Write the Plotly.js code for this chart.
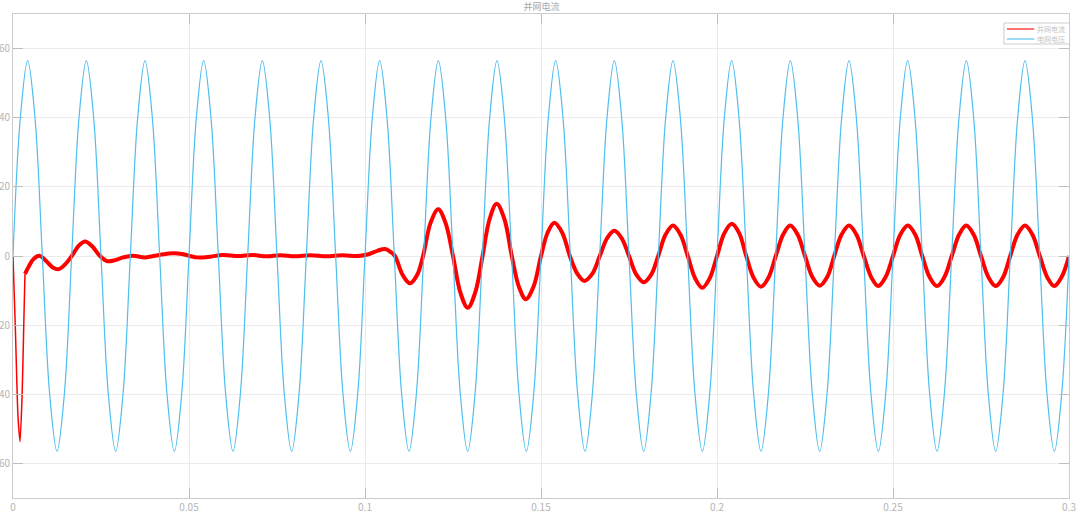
<!DOCTYPE html>
<html>
<head>
<meta charset="utf-8">
<script src="https://cdn.plot.ly/plotly-3.0.1.min.js"></script>
<style>html,body{margin:0;padding:0;background:#fff;}#chart{width:1080px;height:514px;}</style>
</head>
<body>
<div id="chart"></div>
<script>
// ---- data ----
var titleText = '并网电流';
var seriesNames = ['并网电流', '电网电压'];

// grid voltage, sampled every 1/480 s (8 samples per 60 Hz cycle)
var voltT0 = 0;
var voltDt = 1 / 480;
var voltV = [
  0, 40, 56.5, 40, 0, -40, -56.5, -40,
  0, 40, 56.5, 40, 0, -40, -56.5, -40,
  0, 40, 56.5, 40, 0, -40, -56.5, -40,
  0, 40, 56.5, 40, 0, -40, -56.5, -40,
  0, 40, 56.5, 40, 0, -40, -56.5, -40,
  0, 40, 56.5, 40, 0, -40, -56.5, -40,
  0, 40, 56.5, 40, 0, -40, -56.5, -40,
  0, 40, 56.5, 40, 0, -40, -56.5, -40,
  0, 40, 56.5, 40, 0, -40, -56.5, -40,
  0, 40, 56.5, 40, 0, -40, -56.5, -40,
  0, 40, 56.5, 40, 0, -40, -56.5, -40,
  0, 40, 56.5, 40, 0, -40, -56.5, -40,
  0, 40, 56.5, 40, 0, -40, -56.5, -40,
  0, 40, 56.5, 40, 0, -40, -56.5, -40,
  0, 40, 56.5, 40, 0, -40, -56.5, -40,
  0, 40, 56.5, 40, 0, -40, -56.5, -40,
  0, 40, 56.5, 40, 0, -40, -56.5, -40,
  0, 40, 56.5, 40, 0, -40, -56.5, -40,
  0
];

// grid current: start-up spike
var startT = [0, 0.0007, 0.0014, 0.0020, 0.0026, 0.0031, 0.0034];
var startV = [0, -22, -46, -53.7, -40, -18, -5.2];

// grid current: rest of the record
var currT = [
  0.0034, 0.0045, 0.0058, 0.0075, 0.0095, 0.0113, 0.0130, 0.0150,
  0.0167, 0.0187, 0.0205, 0.0225, 0.0247, 0.0268, 0.0290, 0.0313,
  0.0340, 0.0375, 0.0415, 0.0455, 0.0480, 0.0522, 0.0560, 0.0595,
  0.0640, 0.0680, 0.0720, 0.0760, 0.0800, 0.0845, 0.0890, 0.0935,
  0.0980, 0.1010, 0.1035, 0.1057, 0.1072, 0.1085, 0.1107, 0.1128,
  0.1148, 0.1165, 0.1186, 0.1208, 0.1229, 0.1250, 0.1271, 0.1292,
  0.1313, 0.1334, 0.1354, 0.1374, 0.1396, 0.1417, 0.1437, 0.1457,
  0.1479, 0.1500, 0.1519, 0.1538, 0.1560, 0.1582, 0.1603, 0.1623,
  0.1646, 0.1667, 0.1688, 0.1708, 0.1729, 0.1750, 0.1771, 0.1792,
  0.1813, 0.1833, 0.1854, 0.1875, 0.1896, 0.1917, 0.1938, 0.1958,
  0.1979, 0.2000, 0.2021, 0.2042, 0.2063, 0.2083, 0.2104, 0.2125,
  0.2146, 0.2167, 0.2188, 0.2208, 0.2229, 0.2250, 0.2271, 0.2292,
  0.2313, 0.2333, 0.2354, 0.2375, 0.2396, 0.2417, 0.2438, 0.2458,
  0.2479, 0.2500, 0.2521, 0.2542, 0.2563, 0.2583, 0.2604, 0.2625,
  0.2646, 0.2667, 0.2688, 0.2708, 0.2729, 0.2750, 0.2771, 0.2792,
  0.2813, 0.2833, 0.2854, 0.2875, 0.2896, 0.2917, 0.2938, 0.2958,
  0.2979, 0.3000
];
var currV = [
  -5.2, -3.0, -0.9, 0.1, -1.5, -3.3, -3.8, -2.2,
  0, 3.0, 4.2, 2.8, 0, -1.5, -1.2, -0.4,
  0.1, -0.4, 0.3, 0.8, 0.6, -0.4, -0.2, 0.3,
  0.0, 0.3, -0.1, 0.2, -0.1, 0.2, -0.1, 0.2,
  0.0, 0.5, 1.5, 2.0, 1.2, 0, -5.5, -7.9,
  -5.5, 0, 9.5, 13.5, 9.5, 0, -10.6, -15.0,
  -10.6, 0, 10.7, 15.1, 10.7, 0, -8.8, -12.5,
  -8.8, 0, 6.8, 9.6, 6.8, 0, -5.1, -7.2,
  -5.1, 0, 5.2, 7.3, 5.2, 0, -5.4, -7.6,
  -5.4, 0, 6.2, 8.8, 6.2, 0, -6.5, -9.2,
  -6.5, 0, 6.6, 9.3, 6.6, 0, -6.3, -8.9,
  -6.3, 0, 6.2, 8.8, 6.2, 0, -6.1, -8.6,
  -6.1, 0, 6.2, 8.8, 6.2, 0, -6.1, -8.7,
  -6.1, 0, 6.2, 8.8, 6.2, 0, -6.1, -8.7,
  -6.1, 0, 6.2, 8.8, 6.2, 0, -6.1, -8.7,
  -6.1, 0, 6.2, 8.8, 6.2, 0, -6.1, -8.7,
  -6.1, 0
];

var xTickVals = [0, 0.05, 0.1, 0.15, 0.2, 0.25, 0.3];
var xTickText = ['0', '0.05', '0.1', '0.15', '0.2', '0.25', '0.3'];
var yTickVals = [-60, -40, -20, 0, 20, 40, 60];
var yTickText = ['-60', '-40', '-20', '0', '20', '40', '60'];

// ---- styles ----
var RED = '#ff0000';
var BLUE = '#4dbeee';
var FONT = '"Noto Sans CJK SC", "Liberation Sans", sans-serif';

var traces = [
  {
    x: currT, y: currV, type: 'scatter', mode: 'lines', name: seriesNames[0],
    line: {color: RED, width: 4, shape: 'spline', smoothing: 1}
  },
  {
    x: startT, y: startV, type: 'scatter', mode: 'lines', name: seriesNames[0],
    line: {color: RED, width: 1.5, shape: 'spline', smoothing: 0.6}
  },
  {
    y: voltV, x0: voltT0, dx: voltDt, type: 'scatter', mode: 'lines', name: seriesNames[1],
    line: {color: BLUE, width: 1.2, shape: 'spline', smoothing: 1}
  }
];

// compact legend box (matching the small MATLAB-style legend)
var legendColors = [RED, BLUE];
var legRowY = [0.969, 0.9483];
var shapes = [
  {type: 'rect', xref: 'paper', yref: 'paper', x0: 0.9384, x1: 1.0005, y0: 0.938, y1: 0.9814,
   line: {color: '#cccccc', width: 1}, fillcolor: '#ffffff', layer: 'above'}
];
var annotations = [];
for (var i = 0; i < seriesNames.length; i++) {
  shapes.push({type: 'line', xref: 'paper', yref: 'paper', x0: 0.9413, x1: 0.9670,
               y0: legRowY[i], y1: legRowY[i], line: {color: legendColors[i], width: 2}, opacity: 0.55, layer: 'above'});
  annotations.push({xref: 'paper', yref: 'paper', x: 0.9692, y: legRowY[i], xanchor: 'left', yanchor: 'middle',
                    text: seriesNames[i], showarrow: false, borderpad: 0,
                    font: {family: FONT, size: 7, color: '#c4c4c4'}});
}

var axisCommon = {
  showline: true, mirror: 'ticks', linecolor: '#cccccc', linewidth: 1,
  ticks: 'inside', ticklen: 10, tickwidth: 1, tickcolor: '#bdbdbd',
  showgrid: true, gridcolor: '#ebebeb', gridwidth: 1, zeroline: false,
  tickfont: {family: FONT, size: 10, color: '#b4b4b4'},
  automargin: false, fixedrange: true
};

var layout = {
  width: 1080, height: 514,
  margin: {l: 13, r: 11, t: 14, b: 16, pad: 0},
  paper_bgcolor: '#ffffff', plot_bgcolor: '#ffffff',
  font: {family: FONT, color: '#aaaaaa'},
  title: {text: titleText, font: {family: FONT, size: 9, color: '#a8a8a8'},
          x: 0.5015, xanchor: 'center', y: 1 - 7 / 514, yref: 'container', yanchor: 'middle'},
  showlegend: false,
  shapes: shapes,
  annotations: annotations,
  xaxis: Object.assign({}, axisCommon, {range: [0, 0.3], tickvals: xTickVals, ticktext: xTickText}),
  yaxis: Object.assign({}, axisCommon, {range: [-70, 70], tickvals: yTickVals, ticktext: yTickText})
};

Plotly.newPlot('chart', traces, layout, {displayModeBar: false, staticPlot: true});
</script>
</body>
</html>
